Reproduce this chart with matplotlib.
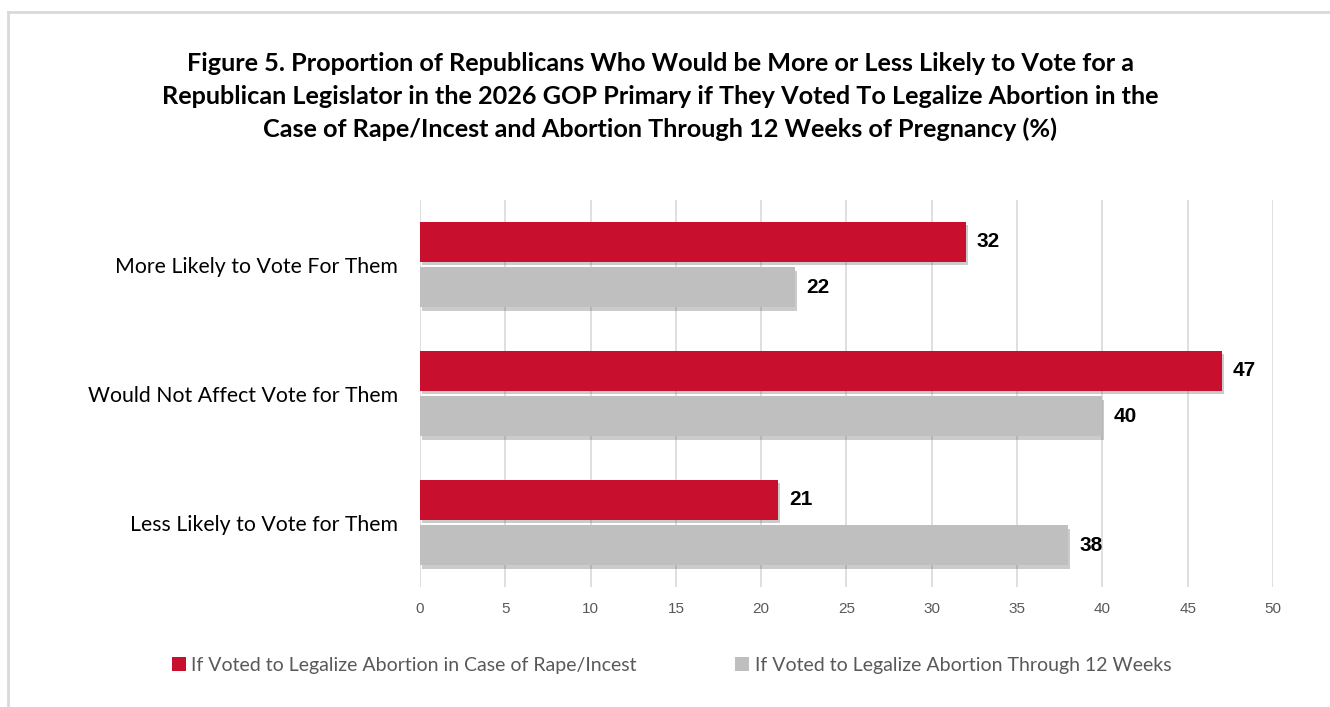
import matplotlib.pyplot as plt
import matplotlib.patheffects as pe
from matplotlib.patches import Patch
from matplotlib.lines import Line2D
import numpy as np

# data
categories = ["More Likely to Vote For Them",
              "Would Not Affect Vote for Them",
              "Less Likely to Vote for Them"]
rape_incest = [32, 47, 21]
twelve_weeks = [22, 40, 38]
series_names = ["If Voted to Legalize Abortion in Case of Rape/Incest",
                "If Voted to Legalize Abortion Through 12 Weeks"]
x_ticks = [0, 5, 10, 15, 20, 25, 30, 35, 40, 45, 50]

red = "#C8102E"
gray = "#BFBFBF"
grid_c = "#D9D9D9"
txt_gray = "#595959"
label_font = "Lato"

fig = plt.figure(figsize=(13.3, 7.07), dpi=100)
ax = fig.add_axes([0.3158, 0.1697, 0.6413, 0.5474])

# frame round the chart (only top and left are visible in the crop)
fig.add_artist(Line2D([0.006, 1.0], [0.983, 0.983], transform=fig.transFigure, color=grid_c, lw=2))
fig.add_artist(Line2D([0.006, 0.006], [0.0, 0.983], transform=fig.transFigure, color=grid_c, lw=2))

y = np.arange(len(categories))
h = 0.31
off = 0.178
shadow = [pe.SimplePatchShadow(offset=(1.5, -2.5), alpha=0.3, shadow_rgbFace="#555555"), pe.Normal()]

b1 = ax.barh(y - off, rape_incest, height=h, color=red, zorder=3)
b2 = ax.barh(y + off, twelve_weeks, height=h, color=gray, zorder=3)
for b in list(b1) + list(b2):
    b.set_path_effects(shadow)

for bars, vals in ((b1, rape_incest), (b2, twelve_weeks)):
    for bar, v in zip(bars, vals):
        ax.annotate(str(v), (v, bar.get_y() + bar.get_height() / 2),
                    xytext=(8, 0), textcoords="offset points",
                    ha="left", va="center", fontsize=15, fontweight="bold",
                    family="Liberation Sans", color="black")

ax.set_xlim(0, 50)
ax.set_ylim(2.5, -0.5)
ax.set_xticks(x_ticks)
ax.set_xticklabels([str(t) for t in x_ticks], family="Liberation Sans", fontsize=11, color=txt_gray)
ax.set_yticks(y)
ax.set_yticklabels(categories, family=label_font, fontsize=15.3, color="black")
ax.tick_params(axis="both", length=0)
ax.tick_params(axis="x", pad=11)
ax.tick_params(axis="y", pad=16)
ax.grid(axis="x", color=grid_c, lw=1.2, zorder=0)
for s in ax.spines.values():
    s.set_visible(False)

fig.text(0.4965, 0.863,
         "Figure 5. Proportion of Republicans Who Would be More or Less Likely to Vote for a\n"
         "Republican Legislator in the 2026 GOP Primary if They Voted To Legalize Abortion in the\n"
         "Case of Rape/Incest and Abortion Through 12 Weeks of Pregnancy (%)",
         ha="center", va="center", fontsize=18.2, fontweight="bold", family=label_font,
         linespacing=1.5)

handles = [Patch(facecolor=red), Patch(facecolor=gray)]
leg = fig.legend(handles, series_names, loc="center", bbox_to_anchor=(0.505, 0.059), ncol=2,
                 frameon=False, handlelength=0.7, handleheight=0.7, handletextpad=0.3,
                 columnspacing=5.05, prop={"family": label_font, "size": 14})
for t in leg.get_texts():
    t.set_color(txt_gray)

fig.savefig("out.png", dpi=100)
